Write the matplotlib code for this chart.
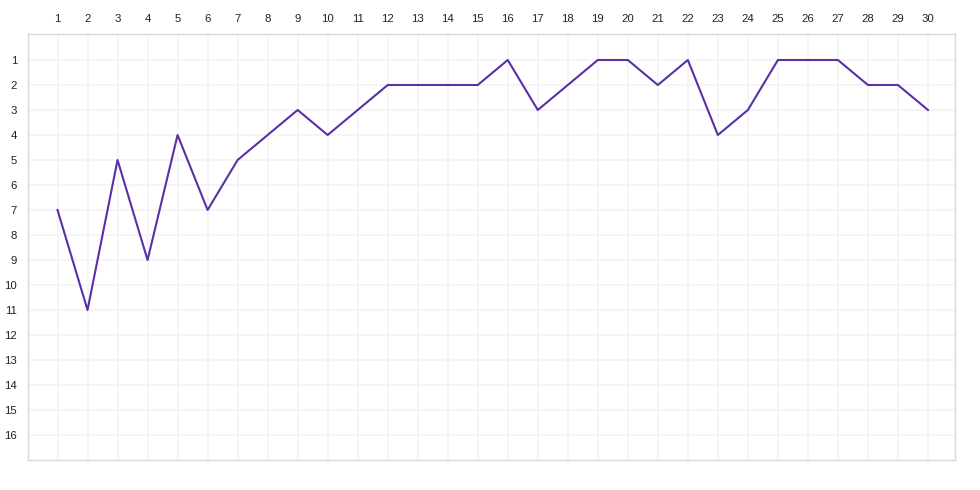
import matplotlib
matplotlib.use('Agg')
import matplotlib.pyplot as plt

rounds = list(range(1, 31))
positions = [7, 11, 5, 9, 4, 7, 5, 4, 3, 4, 3, 2, 2, 2, 2, 1, 3, 2, 1, 1,
             2, 1, 4, 3, 1, 1, 1, 2, 2, 3]
rank_ticks = list(range(1, 17))

plt.rcParams['font.family'] = ['Liberation Sans', 'DejaVu Sans']

fig = plt.figure(figsize=(9.8, 4.9), dpi=100)
ax = fig.add_axes([27.5 / 980, 30 / 490, 927.5 / 980, 426 / 490])

ax.plot(rounds, positions, color='#5a2fa8', linewidth=1.5, zorder=3)

ax.set_xlim(0, 30.9)
ax.set_ylim(17, -0.04)
ax.set_xticks(rounds)
ax.set_yticks(rank_ticks)
ax.xaxis.tick_top()
ax.tick_params(axis='both', length=0, labelsize=8.2, colors='#222222')
ax.tick_params(axis='x', pad=7)
ax.tick_params(axis='y', pad=7.5)
ax.grid(True, color='#f3f3f3', linewidth=1.2)
ax.set_axisbelow(True)
for s in ax.spines.values():
    s.set_color('#d9d9d9')
    s.set_linewidth(1.0)

fig.savefig('out.png', dpi=100)
plt.close(fig)
